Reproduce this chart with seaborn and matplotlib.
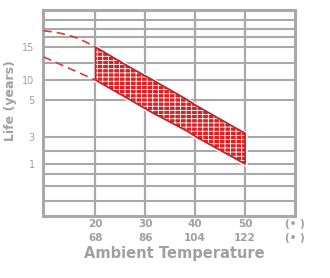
import numpy as np
import matplotlib
matplotlib.use("Agg")
import matplotlib.pyplot as plt
import seaborn as sns

# ---- data ----
temp_c_ticks = [20, 30, 40, 50]
temp_f_labels = ["68", "86", "104", "122"]
unit_label = "(• )"
life_tick_values = [1, 3, 5, 10, 15]
life_tick_labels = ["1", "3", "5", "10", "15"]

band_temp = [20, 27, 31.5, 38.5, 40.2, 50]
band_upper = [15, 11.9, 10, 5, 4.7, 3.2]
band_lower = [10, 5, 4.3, 3.3, 3, 1]

dash_upper_temp = [9.6, 12, 14, 16, 18, 20]
dash_upper_life = [17.2, 17.0, 16.7, 16.3, 15.7, 15.0]
dash_lower_temp = [9.6, 20]
dash_lower_life = [13.5, 10]

# ---- non-uniform value axis of the original chart (knots of the scale) ----
scale_life = [0, 1, 3, 5, 10, 15, 20]
scale_pos = [0, 52, 79, 116, 136, 169, 206]

def fwd(v):
    return np.interp(v, scale_life, scale_pos)

def inv(p):
    return np.interp(p, scale_pos, scale_life)

# horizontal grid rows (positions on the original's axis, styling)
grid_pos = [196, 187, 179, 169, 153, 136, 116, 79, 65, 52, 42, 30, 15]

sns.set_theme(style="white")
plt.rcParams["font.family"] = ["DejaVu Sans"]
plt.rcParams["hatch.linewidth"] = 0.6

grey = "#a9a9a9"
txt = "#a0a0a0"
red = "#d02427"
edge = "#c22125"

fig = plt.figure(figsize=(3.30, 2.78), dpi=100)
ax = fig.add_axes([43 / 330, 1 - 216 / 278, 252 / 330, 206 / 278])
ax.set_yscale("function", functions=(fwd, inv))
ax.set_xlim(9.5, 60)
ax.set_ylim(0, 20)

# grid
for p in grid_pos:
    ax.axhline(inv(p), color=grey, lw=1.5, zorder=1)
for t in temp_c_ticks:
    ax.axvline(t, color=grey, lw=1.6, zorder=1)

# band: white halo, hatched fill, outline
ax.fill_between(band_temp, band_lower, band_upper, facecolor="white",
                edgecolor="white", lw=3, zorder=2)
ax.fill_between(band_temp, band_lower, band_upper, facecolor=red,
                edgecolor="white", hatch="+++-", lw=0, zorder=3)
ax.fill_between(band_temp, band_lower, band_upper, facecolor="none",
                edgecolor=edge, lw=1.2, zorder=4)

# dashed extrapolation
sns.lineplot(x=dash_upper_temp, y=dash_upper_life, ax=ax, color="#d93a3c",
             lw=1.2, linestyle=(0, (5, 3)), zorder=4)
sns.lineplot(x=dash_lower_temp, y=dash_lower_life, ax=ax, color="#d93a3c",
             lw=1.2, linestyle=(0, (5, 3)), zorder=4)

# spines
for s in ["left", "right", "top", "bottom"]:
    ax.spines[s].set_visible(True)
    ax.spines[s].set_color(grey)
    ax.spines[s].set_linewidth(2.2)

# ticks
ax.set_yticks(life_tick_values)
ax.set_yticklabels(life_tick_labels)
ax.minorticks_off()
ax.set_xticks(temp_c_ticks + [60])
ax.set_xticklabels([f"{c}\n{f}" for c, f in zip(temp_c_ticks, temp_f_labels)]
                   + [unit_label + "\n" + unit_label])
ax.tick_params(axis="y", length=0, pad=6, labelsize=7, labelcolor=txt)
ax.tick_params(axis="x", length=0, pad=2, labelsize=7.5, labelcolor=txt)
for lab in ax.get_xticklabels():
    lab.set_linespacing(1.55)
    lab.set_fontweight("bold")

ax.set_ylabel("Life (years)", fontsize=9, fontweight="bold", color=txt)
ax.yaxis.set_label_coords(-0.105, 0.56)
ax.set_xlabel("Ambient Temperature", fontsize=10.5, fontweight="bold",
              color=txt)
ax.xaxis.set_label_coords(0.52, -0.148)

fig.savefig("out.png", dpi=100, facecolor="white")
